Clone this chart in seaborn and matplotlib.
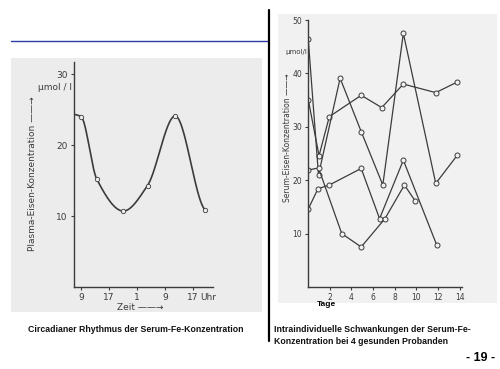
import numpy as np
import pandas as pd
import seaborn as sns
import matplotlib.pyplot as plt
from matplotlib.patches import Rectangle
from matplotlib.lines import Line2D

# Left chart: circadian rhythm of plasma iron
zeit_h = [0, 4.5, 12.1, 19.0, 26.9, 35.4]
fe_circ = [24.0, 15.2, 10.7, 14.3, 24.1, 10.9]
curve_start_h = -2.0
curve_start_fe = 24.3
zeit_ticks = [0, 8, 16, 24, 32]
zeit_labels = ["9", "17", "1", "9", "17"]
circ_yticks = [10, 20, 30]

# Right chart: day-to-day variation, 4 healthy probands
tage_a = [0, 1.0, 1.95, 4.9, 6.8, 8.8, 11.8, 13.8]
fe_a = [35.1, 24.6, 31.9, 35.9, 33.6, 38.0, 36.4, 38.4]
tage_b = [0, 0.95, 2.95, 4.9, 6.9, 8.8, 11.8, 13.8]
fe_b = [46.4, 21.0, 39.1, 29.1, 19.1, 47.5, 19.4, 24.7]
tage_c = [0, 0.9, 1.95, 4.9, 6.6, 8.8, 11.9]
fe_c = [14.6, 18.4, 19.1, 22.2, 12.8, 23.75, 7.8]
tage_d = [0, 0.95, 3.1, 4.9, 7.1, 8.9, 9.9]
fe_d = [21.9, 22.3, 10.0, 7.5, 12.8, 19.1, 16.1]
tage_ticks = [2, 4, 6, 8, 10, 12, 14]
serum_yticks = [10, 20, 30, 40, 50]

W, H = 500, 369
INK = "#3c3c3c"


def fx(px):
    return px / W


def fy(py):
    return 1 - py / H


def box(x0, y0, x1, y1):
    return [fx(x0), fy(y1), (x1 - x0) / W, (y1 - y0) / H]


def smooth(x, y, n=300):
    # monotone cubic (pchip-like) curve through the read points, for drawing only
    x = np.asarray(x, float)
    y = np.asarray(y, float)
    h = np.diff(x)
    d = np.diff(y) / h
    m = np.zeros_like(y)
    for k in range(1, len(x) - 1):
        if d[k - 1] * d[k] > 0:
            w1 = 2 * h[k] + h[k - 1]
            w2 = h[k] + 2 * h[k - 1]
            m[k] = (w1 + w2) / (w1 / d[k - 1] + w2 / d[k])
    m[0] = 0
    m[-1] = 0.3 * d[-1]
    xs = np.linspace(x[0], x[-1], n)
    k = np.clip(np.searchsorted(x, xs) - 1, 0, len(x) - 2)
    t = (xs - x[k]) / h[k]
    ys = ((2 * t**3 - 3 * t**2 + 1) * y[k] + (t**3 - 2 * t**2 + t) * h[k] * m[k]
          + (-2 * t**3 + 3 * t**2) * y[k + 1] + (t**3 - t**2) * h[k] * m[k + 1])
    return xs, ys


sns.set_style("ticks")
plt.rcParams["font.family"] = ["DejaVu Sans"]

fig = plt.figure(figsize=(5, 3.69), dpi=100)
fig.patch.set_facecolor("white")

# scanned panels as a background axes
bg = fig.add_axes([0, 0, 1, 1], zorder=-5)
bg.set_xlim(0, W)
bg.set_ylim(H, 0)
bg.axis("off")
bg.add_patch(Rectangle((11, 58), 251, 254, facecolor="#ececec", edgecolor="none"))
bg.add_patch(Rectangle((278, 14), 219, 289, facecolor="#f1f1f1", edgecolor="none"))
# page rules
bg.add_line(Line2D([11, 268], [41, 41], color="#2e3aa8", lw=1.0))
bg.add_line(Line2D([269, 269], [10, 341], color="black", lw=1.6))

# ---- left chart
ax1 = fig.add_axes(box(74, 62, 213, 287))
ax1.set_facecolor("none")
cx, cy = smooth([curve_start_h] + zeit_h, [curve_start_fe] + fe_circ)
sns.lineplot(x=cx, y=cy, ax=ax1, color=INK, lw=1.2, estimator=None, sort=False)
sns.scatterplot(x=zeit_h, y=fe_circ, ax=ax1, marker="o", s=10, facecolor="#eeeeee",
                edgecolor=INK, linewidth=0.6, zorder=3)
ax1.set_xlim(-2, 37.7)
ax1.set_ylim(0, 31.7)
ax1.set_xticks(zeit_ticks)
ax1.set_xticklabels(zeit_labels)
ax1.set_yticks(circ_yticks)
ax1.set_xlabel("")
ax1.set_ylabel("")
sns.despine(ax=ax1)
for sp in ax1.spines.values():
    sp.set_color(INK)
    sp.set_linewidth(1.0)
ax1.tick_params(colors=INK, labelsize=6.5, length=2.5, width=0.8, pad=2)
fig.text(fx(200), fy(298), "Uhr", fontsize=6.5, color=INK, va="center", ha="left")
fig.text(fx(55), fy(88), "μmol / l", fontsize=6.5, color=INK, va="center", ha="center")
fig.text(fx(33), fy(174), "Plasma-Eisen-Konzentration ——→", fontsize=6.5, color=INK,
         rotation=90, va="center", ha="center")
fig.text(fx(140), fy(308), "Zeit ——→", fontsize=6.5, color=INK, va="center", ha="center")

# ---- right chart
df = pd.concat([
    pd.DataFrame({"tag": tage_a, "fe": fe_a, "proband": "A"}),
    pd.DataFrame({"tag": tage_b, "fe": fe_b, "proband": "B"}),
    pd.DataFrame({"tag": tage_c, "fe": fe_c, "proband": "C"}),
    pd.DataFrame({"tag": tage_d, "fe": fe_d, "proband": "D"}),
], ignore_index=True)

ax2 = fig.add_axes(box(307.7, 20, 461.7, 287))
ax2.set_facecolor("none")
sns.lineplot(data=df, x="tag", y="fe", units="proband", estimator=None, sort=False,
             ax=ax2, color=INK, lw=0.9, marker="o", markersize=3.6,
             markerfacecolor="#f1f1f1", markeredgecolor=INK, markeredgewidth=0.7)
ax2.set_xlim(-0.05, 14.2)
ax2.set_ylim(0, 50)
ax2.set_xticks(tage_ticks)
ax2.set_yticks(serum_yticks)
ax2.set_xlabel("")
ax2.set_ylabel("")
sns.despine(ax=ax2)
for sp in ax2.spines.values():
    sp.set_color(INK)
    sp.set_linewidth(1.0)
ax2.tick_params(colors=INK, labelsize=5.5, length=2.5, width=0.8, pad=1.5)
fig.text(fx(296), fy(52), "μmol/l", fontsize=5, color=INK, va="center", ha="center")
fig.text(fx(288), fy(138), "Serum-Eisen-Konzentration ——→", fontsize=5.5, color=INK,
         rotation=90, va="center", ha="center")
fig.text(fx(326), fy(305), "Tage", fontsize=6, fontweight="bold", family="Liberation Sans",
         color="black", va="center", ha="center")

# ---- captions
fig.text(fx(136), fy(329), "Circadianer Rhythmus der Serum-Fe-Konzentration", fontsize=6.3,
         fontweight="bold", family="Liberation Sans", color="#111111", va="center", ha="center")
fig.text(fx(274), fy(329), "Intraindividuelle Schwankungen der Serum-Fe-", fontsize=6.3,
         fontweight="bold", family="Liberation Sans", color="#111111", va="center", ha="left")
fig.text(fx(274), fy(342), "Konzentration bei 4 gesunden Probanden", fontsize=6.3,
         fontweight="bold", family="Liberation Sans", color="#111111", va="center", ha="left")
fig.text(fx(495), fy(358), "- 19 -", fontsize=9, fontweight="bold", family="Liberation Sans",
         color="black", va="center", ha="right")

fig.savefig("out.png", dpi=100)
